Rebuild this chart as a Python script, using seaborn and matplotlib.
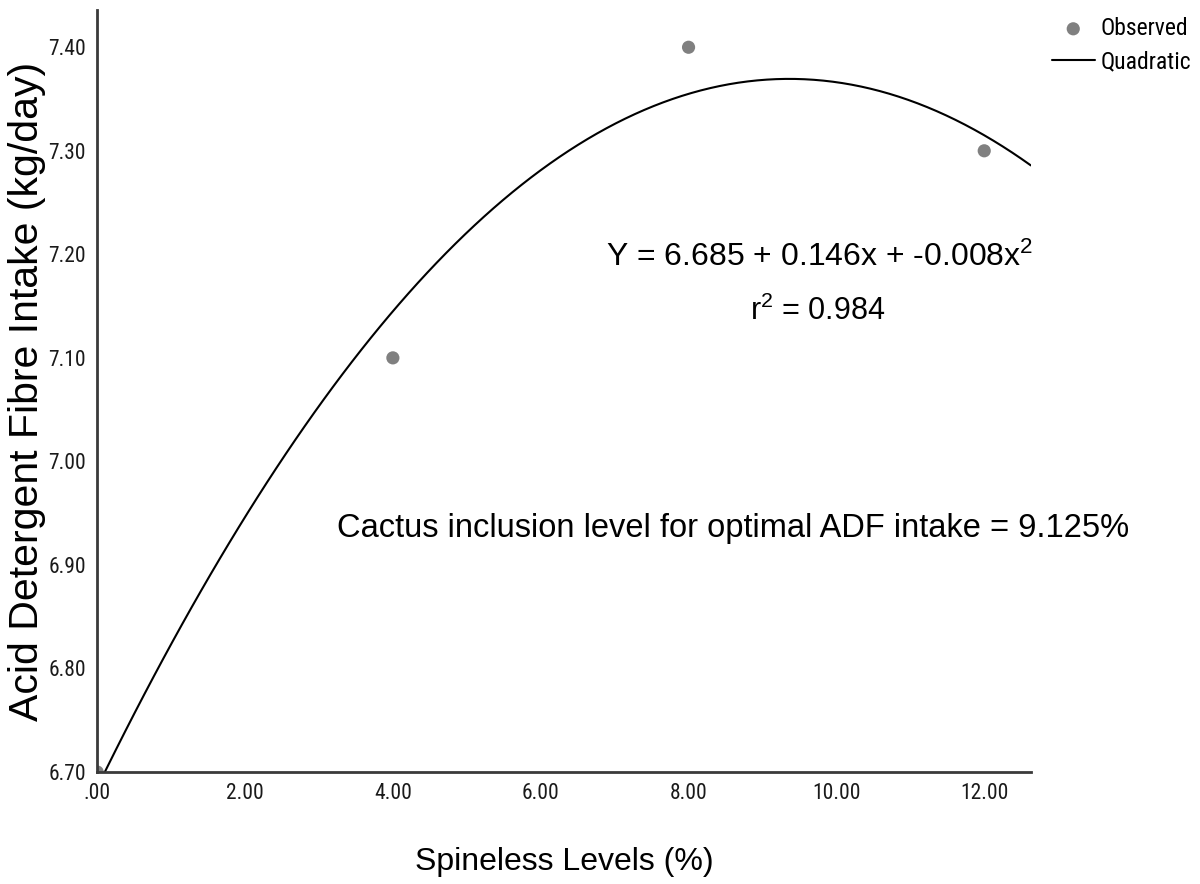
import matplotlib
matplotlib.use("Agg")
import matplotlib.pyplot as plt
import seaborn as sns
import numpy as np
import pandas as pd

# observed data
spineless_levels = [0, 4, 8, 12]
adf_intake = [6.70, 7.10, 7.40, 7.30]

x_ticks = [0, 2, 4, 6, 8, 10, 12]
x_tick_labels = [".00", "2.00", "4.00", "6.00", "8.00", "10.00", "12.00"]
y_ticks = [6.70, 6.80, 6.90, 7.00, 7.10, 7.20, 7.30, 7.40]
y_tick_labels = ["6.70", "6.80", "6.90", "7.00", "7.10", "7.20", "7.30", "7.40"]

eq_text = "Y = 6.685 + 0.146x + -0.008x$^{2}$"
r2_text = "r$^{2}$ = 0.984"
opt_text = "Cactus inclusion level for optimal ADF intake = 9.125%"

sns.set_style("white")
plt.rcParams['font.family'] = ['Liberation Sans', 'DejaVu Sans']
plt.rcParams['text.color'] = 'black'
plt.rcParams['axes.labelcolor'] = 'black'
plt.rcParams['mathtext.fontset'] = 'custom'
plt.rcParams['mathtext.rm'] = 'Liberation Sans'
plt.rcParams['mathtext.it'] = 'Liberation Sans'
narrow = ['Roboto Condensed', 'Liberation Sans', 'DejaVu Sans']

df = pd.DataFrame({'level': spineless_levels, 'adf': adf_intake})

fig = plt.figure(figsize=(12, 8.84), dpi=100)
ax = fig.add_axes([0.081, 0.1267, 0.778, 0.862])
ax.set_xlim(0, 12.63)
ax.set_ylim(6.70, 7.436)

sns.scatterplot(data=df, x='level', y='adf', ax=ax, color='#808080', s=90,
                edgecolor='none', label='Observed', zorder=2)
sns.regplot(data=df, x='level', y='adf', ax=ax, order=2, ci=None,
            scatter=False, truncate=False, label='Quadratic',
            line_kws={'color': 'black', 'linewidth': 1.5, 'zorder': 3})

for side in ['top', 'right']:
    ax.spines[side].set_visible(False)
for side in ['left', 'bottom']:
    ax.spines[side].set_color('#3a3a3a')
    ax.spines[side].set_linewidth(2)
    ax.spines[side].set_zorder(4)

ax.set_xticks(x_ticks)
ax.set_xticklabels(x_tick_labels, family=narrow, fontsize=15.5, color='#1a1a1a')
ax.set_yticks(y_ticks)
ax.set_yticklabels(y_tick_labels, family=narrow, fontsize=15.5, color='#1a1a1a')
ax.tick_params(length=0, pad=8)

ax.set_xlabel("Spineless Levels (%)", fontsize=23, labelpad=31)
ax.set_ylabel("Acid Detergent Fibre Intake (kg/day)", fontsize=29.5, labelpad=2)

fig.text(820 / 1200, 1 - 257 / 884, eq_text, ha='center', va='center', fontsize=23)
fig.text(818 / 1200, 1 - 311 / 884, r2_text, ha='center', va='center', fontsize=22)
fig.text(733 / 1200, 1 - 529 / 884, opt_text, ha='center', va='center', fontsize=23.5)

leg = ax.legend(loc='upper left', bbox_to_anchor=(1052 / 1200, 1 - 17 / 884),
                bbox_transform=fig.transFigure, frameon=False,
                prop={'family': narrow, 'size': 17}, handlelength=1.8,
                handletextpad=0.25, labelspacing=0.45, borderpad=0, borderaxespad=0)

fig.savefig("out.png", dpi=100)
